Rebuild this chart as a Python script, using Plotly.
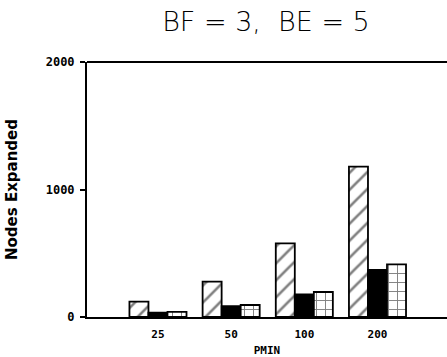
import plotly.graph_objects as go

categories = ["25", "50", "100", "200"]
series_a = [120, 277, 578, 1179]   # hatched
series_b = [35, 86, 178, 369]      # solid black
series_c = [40, 94, 196, 413]      # grid
y_ticks = [0, 1000, 2000]
y_ticklabels = ["0", "1000", "2000"]

fig = go.Figure()
fig.add_trace(go.Bar(x=categories, y=series_a, name="A",
                     marker=dict(color="white", line=dict(color="black", width=1.8),
                                 pattern=dict(shape="/", fgcolor="black", bgcolor="white",
                                              size=12, solidity=0.22))))
fig.add_trace(go.Bar(x=categories, y=series_b, name="B",
                     marker=dict(color="black", line=dict(color="black", width=1.8))))
fig.add_trace(go.Bar(x=categories, y=series_c, name="C",
                     marker=dict(color="white", line=dict(color="black", width=1.8),
                                 pattern=dict(shape="+", fgcolor="black", bgcolor="white",
                                              size=9, solidity=0.2))))

fig.update_layout(
    width=447, height=357,
    margin=dict(l=87, r=0, t=62, b=40),
    paper_bgcolor="white", plot_bgcolor="white",
    barmode="group", bargap=0.22, bargroupgap=0,
    showlegend=False,
    title=dict(text="BF = 3,\u00a0\u00a0BE = 5", x=0.595, xanchor="center", y=0.94, yanchor="middle",
               font=dict(family="DejaVu Sans", size=27, color="black", weight=300)),
    xaxis=dict(range=[-0.97, 3.95], showline=True, mirror=False, linecolor="black", linewidth=2,
               ticks="", showgrid=False, zeroline=False, ticklabelstandoff=6,
               tickfont=dict(family="DejaVu Sans Mono", size=11, color="black", weight="bold"),
               title=dict(text="PMIN", standoff=6,
                          font=dict(family="DejaVu Sans Mono", size=11, color="black", weight="bold"))),
    yaxis=dict(range=[0, 2000], tickvals=y_ticks, ticktext=y_ticklabels,
               showline=True, linecolor="black", linewidth=2, ticks="outside", ticklen=5,
               tickcolor="black", tickwidth=1.5, showgrid=False, zeroline=False,
               ticklabelstandoff=3,
               tickfont=dict(family="DejaVu Sans Mono", size=12, color="black", weight="bold"),
               title=dict(text="Nodes Expanded", standoff=24,
                          font=dict(family="DejaVu Sans", size=15, color="black", weight="bold"))),
    shapes=[dict(type="line", xref="paper", yref="paper", x0=0, x1=1.02, y0=1, y1=1,
                 line=dict(color="black", width=2))],
)

fig.write_html("out.html")
